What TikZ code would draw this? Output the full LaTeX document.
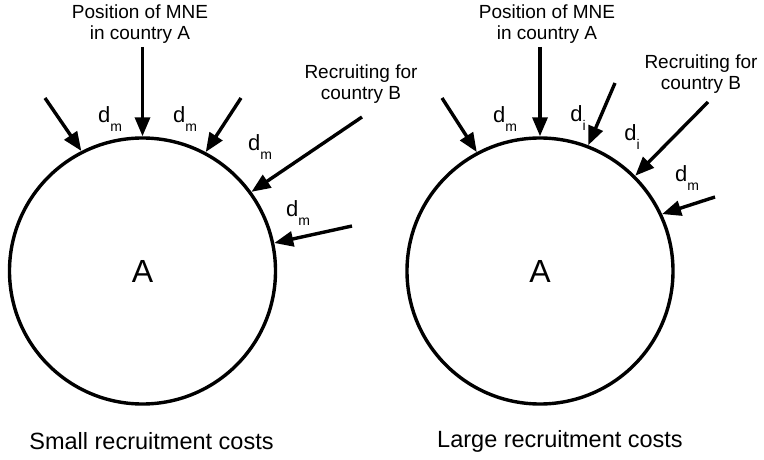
\documentclass[tikz,border=0pt]{standalone}
\usepackage{fontspec}
\setmainfont{Liberation Sans}
\usetikzlibrary{arrows.meta,positioning}
\tikzstyle{country}=[
        draw,
        circle,
        line width = 3.4pt,
        minimum size = 266pt,
        inner sep = 0pt,
        font = \fontsize{32}{36}\selectfont
    ]
\tikzstyle{push}=[line width = 3.4pt, -{Triangle[length=19pt,width=15pt]}]
\tikzstyle{tag}=[align = center, inner sep = 0pt, font = \fontsize{19}{21}\selectfont]
\tikzstyle{dist}=[inner sep = 0pt, font = \fontsize{22}{24}\selectfont]
\tikzstyle{caption}=[inner sep = 0pt, font = \fontsize{23.5}{26}\selectfont]
\newcommand{\dsub}[1]{d\raisebox{-.75ex}{\fontsize{14}{14}\selectfont #1}}

\begin{document}
\begin{tikzpicture}[x=1pt, y=-1pt, node distance={397.5pt}]
        \useasboundingbox (0,0) rectangle (764,460);
        \node[country] (L) at (142.5,271) {A};
        \node[country] (R) [right of = L] {A};

        % small recruitment costs
        \node[tag] (posL) at (140,24) {Position of MNE\\in country A};
        \node[tag] (recL) at (361,84) {Recruiting for\\country B};
        \coordinate (l1) at (45,98);
        \coordinate (l2) at (142.5,47);
        \coordinate (l3) at (241,98);
        \coordinate (l4) at (362,117);
        \coordinate (l5) at (352,226);
        \draw[push] (l1) -- (L.117);
        \draw[push] (l2) -- (L.north);
        \draw[push] (l3) -- (L.62);
        \draw[push] (l4) -- (L.36);
        \draw[push] (l5) -- (L.12);
        \node[dist] (dl1) at (110,119) {\dsub{m}};
        \node[dist] (dl2) at (185,119) {\dsub{m}};
        \node[dist] (dl3) at (260,147) {\dsub{m}};
        \node[dist] (dl4) at (298,213) {\dsub{m}};
        \node[caption] (capL) at (151.5,441) {Small recruitment costs};

        % large recruitment costs
        \node[tag] (posR) at (547,24) {Position of MNE\\in country A};
        \node[tag] (recR) at (701,74) {Recruiting for\\country B};
        \coordinate (r1) at (442,98);
        \coordinate (r2) at (540,47);
        \coordinate (r3) at (615,83);
        \coordinate (r4) at (708,102);
        \coordinate (r5) at (715,197);
        \draw[push] (r1) -- (R.118);
        \draw[push] (r2) -- (R.north);
        \draw[push] (r3) -- (R.69);
        \draw[push] (r4) -- (R.45);
        \draw[push] (r5) -- (R.25);
        \node[dist] (dr1) at (505,119) {\dsub{m}};
        \node[dist] (dr2) at (578,118) {\dsub{i}};
        \node[dist] (dr3) at (632,137) {\dsub{i}};
        \node[dist] (dr4) at (687,178) {\dsub{m}};
        \node[caption] (capR) at (560,441) {Large recruitment costs};
    \end{tikzpicture}
\end{document}
